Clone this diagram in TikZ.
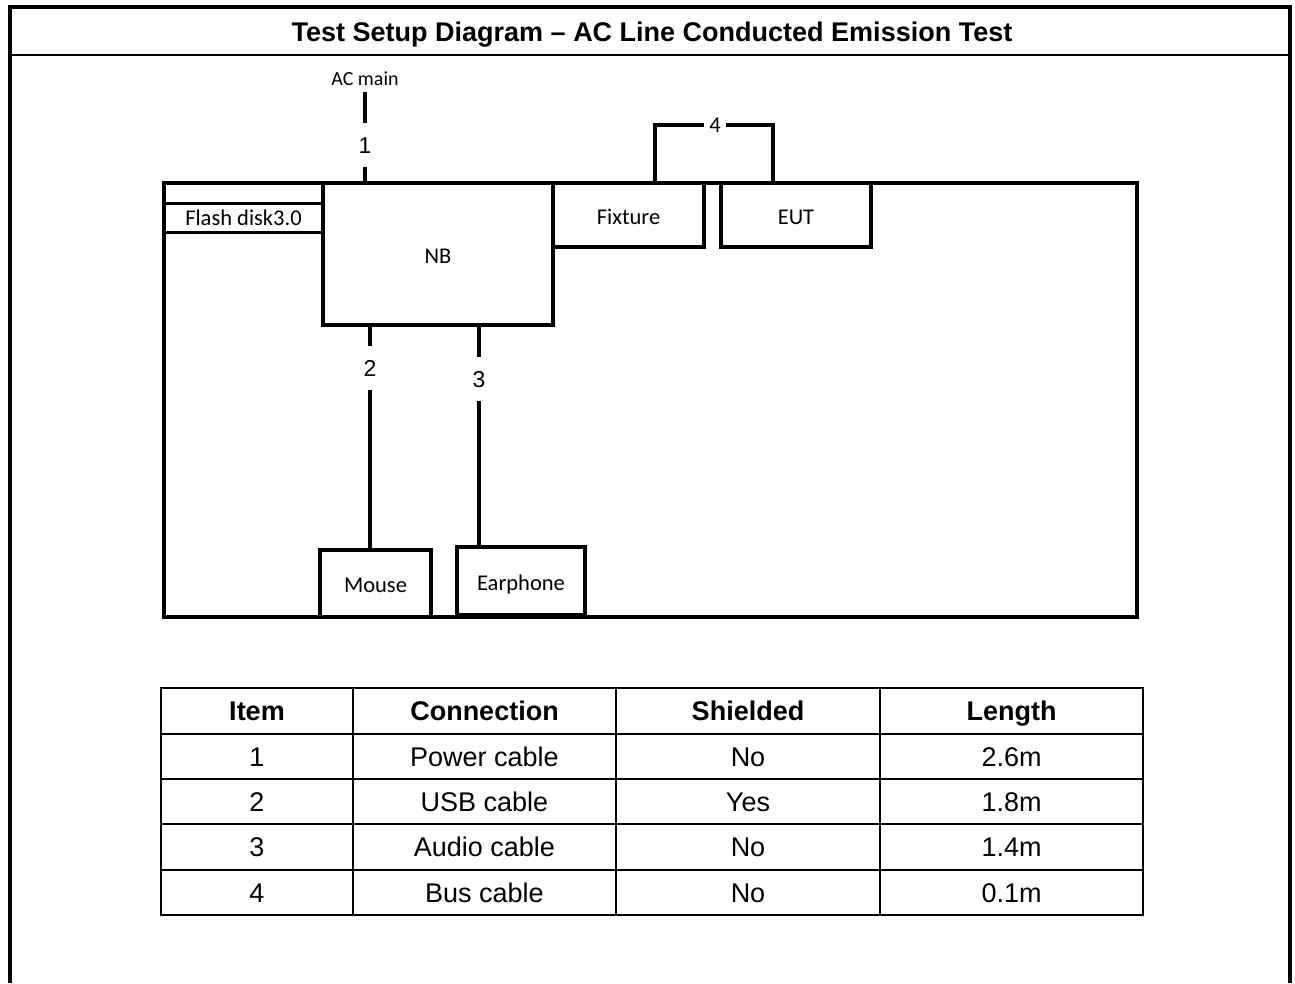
\documentclass[tikz,border=0pt]{standalone}
\usepackage{fontspec}
\setmainfont{Liberation Sans}
\newfontfamily\calibri{Carlito}
\usetikzlibrary{positioning}
\begin{document}
\begin{tikzpicture}[x=1pt, y=-1pt, line join=miter,
    box/.style={draw, line width=4pt, rectangle, inner sep=0pt, outer sep=0pt,
      text height=18pt, text depth=0pt,
      font=\calibri\fontsize{22.5}{26}\selectfont},
    cable/.style={line width=4pt},
    cablelabel/.style={inner sep=0pt, minimum width=21pt, minimum height=44pt,
      text height=16.1pt, text depth=0pt, font=\fontsize{23}{26}\selectfont},
    cell/.style={inner sep=0pt, text height=19.3pt, text depth=0pt,
      font=\fontsize{27}{30}\selectfont},
    grid/.style={line width=2pt}]
\useasboundingbox (0,0) rectangle (1295,983);

% frame and title
\draw [line width=4pt] (10,983) -- (10,7) -- (1290,7) -- (1290,983);
\draw [line width=2.5pt] (10,55) -- (1290,55);
\node (title) at (652,32) [cell, font=\bfseries\fontsize{27}{30}\selectfont]
  {Test Setup Diagram – AC Line Conducted Emission Test};

% test table and equipment
\node (bench) at (650.5,400) [box, minimum width=973pt, minimum height=434pt] {};
\node (nb) at (438,254) [box, minimum width=230pt, minimum height=142pt] {NB};
\node (flash) at (243.5,217.5) [box, line width=3pt, text height=16pt,
  minimum width=159pt, minimum height=29pt] {Flash disk3.0};
\node (fixture) at (628.5,215) [box, minimum width=151pt, minimum height=64pt]
  {Fixture};
\node (eut) at (796,215) [box, minimum width=150pt, minimum height=64pt] {EUT};
\node (mouse) at (375.5,583.5) [box, minimum width=111pt, minimum height=67pt]
  {Mouse};
\node (earphone) at (521,581) [box, minimum width=128pt, minimum height=68pt]
  {Earphone};

% cable 1: power
\node (c1) at (365,145) [cablelabel] {1};
\coordinate (acend) at (365,92);
\node (acmain) [above=6pt of acend, inner sep=0pt,
  font=\calibri\fontsize{20}{24}\selectfont] {AC main};
\draw [cable] (nb.north -| c1) -- (c1.south);
\draw [cable] (c1.north) -- (acend);

% cable 2: usb
\node (c2) at (370,368) [cablelabel] {2};
\draw [cable] (nb.south -| c2) -- (c2.north);
\draw [cable] (c2.south) -- (mouse.north -| c2);

% cable 3: audio
\node (c3) at (479,379) [cablelabel] {3};
\draw [cable] (nb.south -| c3) -- (c3.north);
\draw [cable] (c3.south) -- (earphone.north -| c3);

% cable 4: bus
\node (c4) at (715,125) [cablelabel, text height=14.4pt,
  font=\calibri\fontsize{22.5}{26}\selectfont] {4};
\draw [cable] (c4.west) -| ([xshift=26.5pt]fixture.north);
\draw [cable] (c4.east) -| ([xshift=-23pt]eut.north);

% cable table
\draw [grid] (161,688) rectangle (1143,915);
\foreach \y in {734,779,824,870}
  \draw [grid] (161,\y) -- (1143,\y);
\foreach \x in {353,616,880}
  \draw [grid] (\x,688) -- (\x,915);
\foreach \x/\t [count=\i] in {257/Item, 484.5/Connection, 748/Shielded,
    1011.5/Length}
  \node (head\i) at (\x,711) [cell, font=\bfseries\fontsize{27}{30}\selectfont] {\t};
\foreach \n/\conn/\shield/\len [count=\r] in {1/Power cable/No/2.6m,
    2/USB cable/Yes/1.8m, 3/Audio cable/No/1.4m, 4/Bus cable/No/0.1m}
{
  \pgfmathsetmacro\yy{711+45.4*\r}
  \node (item\r) at (257,\yy) [cell] {\n};
  \node (conn\r) at (484.5,\yy) [cell] {\conn};
  \node (shield\r) at (748,\yy) [cell] {\shield};
  \node (len\r) at (1011.5,\yy) [cell] {\len};
}
\end{tikzpicture}
\end{document}
